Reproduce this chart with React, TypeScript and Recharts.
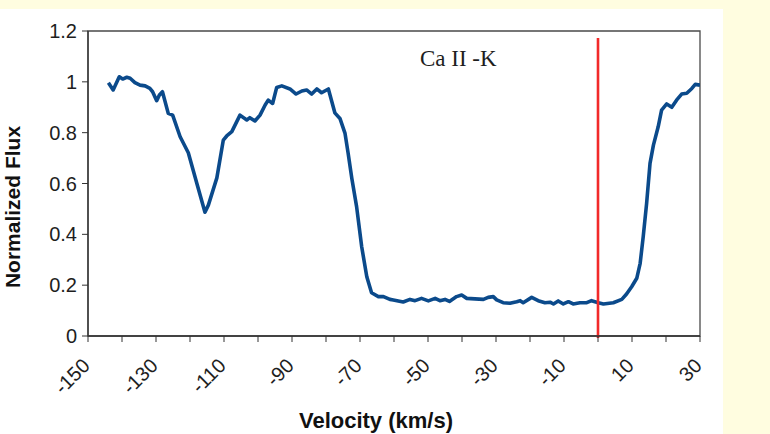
import { LineChart, Line, XAxis, YAxis, ReferenceLine, ReferenceArea } from "recharts";

// Ca II K absorption profile, normalized flux vs. velocity
const velocity = [
  -144.0, -142.6, -140.8, -139.8, -138.6, -137.6, -136.2, -134.7, -133.2, -131.8,
  -131.0, -129.8, -129.0, -128.1, -126.4, -125.1, -122.9, -120.5, -118.0, -115.6,
  -114.6, -112.1, -110.2, -109.2, -107.7, -105.3, -103.3, -102.4, -100.9, -99.4,
  -97.9, -97.0, -95.7, -94.5, -93.0, -90.6, -88.8, -87.1, -85.7, -84.2,
  -82.7, -81.3, -79.3, -77.4, -75.9, -74.4, -73.5, -72.4, -71.0, -69.5,
  -68.0, -66.6, -64.6, -63.1, -61.2, -60.2, -57.3, -55.3, -53.8, -51.9,
  -49.9, -47.9, -46.5, -45.0, -43.7, -41.6, -40.1, -38.6, -36.2, -33.7,
  -32.3, -30.8, -29.8, -27.9, -25.9, -23.9, -22.9, -22.0, -19.5, -17.6,
  -15.6, -14.1, -13.1, -11.7, -10.2, -8.7, -7.3, -5.3, -3.3, -1.9,
  0.1, 1.6, 4.5, 7.0, 8.4, 9.9, 11.4, 12.4, 13.3, 14.3,
  15.3, 16.3, 17.7, 18.7, 20.2, 21.7, 23.1, 24.6, 26.1, 27.6,
  28.6, 30.0,
];

const flux = [
  0.996, 0.968, 1.02, 1.011, 1.018, 1.014, 0.997, 0.987, 0.984, 0.974,
  0.961, 0.926, 0.948, 0.961, 0.876, 0.869, 0.784, 0.721, 0.601, 0.487,
  0.515, 0.622, 0.771, 0.787, 0.804, 0.869, 0.85, 0.859, 0.846, 0.869,
  0.909, 0.928, 0.915, 0.978, 0.984, 0.972, 0.952, 0.964, 0.968, 0.952,
  0.972, 0.957, 0.972, 0.878, 0.856, 0.797, 0.72, 0.62, 0.509, 0.351,
  0.233, 0.17, 0.155, 0.155, 0.144, 0.142, 0.134, 0.144, 0.139, 0.148,
  0.138, 0.148, 0.139, 0.144, 0.136, 0.155, 0.161, 0.148, 0.146, 0.144,
  0.152, 0.155, 0.142, 0.131, 0.129, 0.135, 0.139, 0.131, 0.152, 0.139,
  0.131, 0.133, 0.126, 0.138, 0.126, 0.135, 0.126, 0.131, 0.131, 0.139,
  0.131, 0.126, 0.131, 0.144, 0.165, 0.194, 0.227, 0.286, 0.391, 0.522,
  0.679, 0.751, 0.823, 0.889, 0.913, 0.9, 0.928, 0.952, 0.955, 0.974,
  0.99, 0.987,
];

const xTicks = [
  -150, -140, -130, -120, -110, -100, -90, -80, -70, -60, -50, -40, -30, -20, -10, 0, 10, 20, 30,
];
const xLabelled = [-150, -130, -110, -90, -70, -50, -30, -10, 10, 30];
const yTicks = [0, 0.2, 0.4, 0.6, 0.8, 1, 1.2];

const restVelocity = 0;
const lineLabel = "Ca II -K";

const data = velocity.map((v, i) => ({ v, flux: flux[i] }));

const SANS = "'Liberation Sans', Arial, sans-serif";
const SERIF = "'Liberation Serif', 'Times New Roman', serif";

function VelocityTick(props: any) {
  const { x, y, payload } = props;
  if (!xLabelled.includes(payload.value)) return null;
  return (
    <g transform={`translate(${x + 3},${y + 23}) rotate(-45)`}>
      <text textAnchor="end" fontFamily={SANS} fontSize={20} fill="#1e1e1e">
        {payload.value}
      </text>
    </g>
  );
}

function RestLine(props: any) {
  const { x1, y1, x2, y2 } = props;
  return <line x1={x1} y1={y1 + 2} x2={x2} y2={y2 + 7} stroke="#f22a2a" strokeWidth={2.6} />;
}

export default function App() {
  return (
    <div
      style={{
        position: "fixed",
        left: 0,
        top: 0,
        width: 770,
        height: 434,
        background: "#fffde0",
        overflow: "hidden",
      }}
    >
      <div style={{ position: "absolute", left: 0, top: 9, width: 723, height: 425, background: "#fff" }} />
      <div style={{ position: "absolute", left: 0, top: 0 }}>
        <LineChart width={770} height={434} data={data} margin={{ top: 31, right: 70, bottom: 38, left: 28 }}>
          <ReferenceArea x1={-150} x2={30} y1={0} y2={1.2} fill="none" stroke="#4a4a4a" strokeWidth={1.3} ifOverflow="visible" />
          <XAxis
            dataKey="v"
            type="number"
            domain={[-150, 30]}
            ticks={xTicks}
            interval={0}
            allowDataOverflow
            height={60}
            tickSize={6}
            tickLine={{ stroke: "#333" }}
            axisLine={{ stroke: "#333", strokeWidth: 1.3 }}
            tick={<VelocityTick />}
          />
          <YAxis
            type="number"
            domain={[0, 1.2]}
            ticks={yTicks}
            interval={0}
            width={60}
            tickSize={6}
            tickMargin={5}
            tickLine={{ stroke: "#333" }}
            axisLine={{ stroke: "#333", strokeWidth: 1.3 }}
            tick={{ fontFamily: SANS, fontSize: 20, fill: "#1e1e1e" }}
            tickFormatter={(t: number) => String(t)}
          />
          <Line
            type="linear"
            dataKey="flux"
            stroke="#0b4a8b"
            strokeWidth={3.6}
            strokeLinejoin="round"
            dot={false}
            isAnimationActive={false}
          />
          <ReferenceLine x={restVelocity} shape={<RestLine />} ifOverflow="visible" />
        </LineChart>
      </div>
      <svg
        width={770}
        height={434}
        style={{ position: "absolute", left: 0, top: 0, pointerEvents: "none" }}
      >
        <text x={420} y={66} fontFamily={SERIF} fontSize={23} fill="#1e1e1e">
          {lineLabel}
        </text>
        <text
          transform="translate(20,207) rotate(-90)"
          textAnchor="middle"
          fontFamily={SANS}
          fontWeight="bold"
          fontSize={21}
          fill="#111"
        >
          Normalized Flux
        </text>
        <text x={376} y={428} textAnchor="middle" fontFamily={SANS} fontWeight="bold" fontSize={22} fill="#111">
          Velocity (km/s)
        </text>
      </svg>
    </div>
  );
}
